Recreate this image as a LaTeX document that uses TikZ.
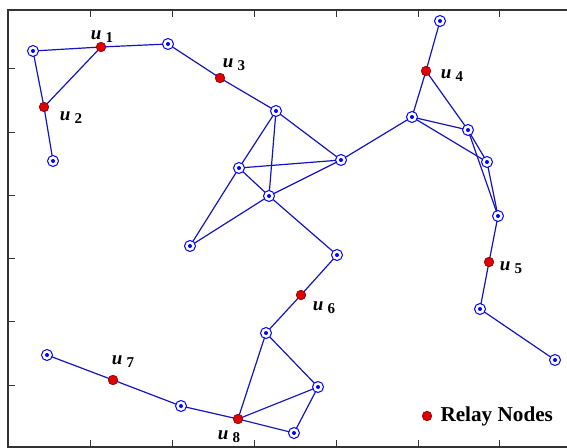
\documentclass[tikz,border=0pt]{standalone}
\usepackage{fontspec}
\setmainfont{Liberation Serif}
\usepackage{tikz}
\usetikzlibrary{positioning, backgrounds}
\usepackage{xcolor}
\definecolor{linkblue}{RGB}{20,20,190}
\definecolor{nodeblue}{RGB}{0,0,255}
\definecolor{relayred}{RGB}{225,0,0}
\newcommand{\relaytag}[1]{\textbf{\textit{u}}\kern2pt\raisebox{-0.35ex}{\fontsize{7.5}{8}\selectfont\textbf{#1}}}

\begin{document}
\begin{tikzpicture}[x=0.5pt, y=-0.5pt, node distance=0.85cm]
        \tikzstyle{sensor} = [circle, draw=nodeblue, line width=0.5pt, fill=white, minimum size=5.5pt, inner sep=0pt,
            path picture={\fill[nodeblue] (path picture bounding box.center) circle (1pt);}]
        \tikzstyle{relay} = [circle, draw=red!50!black, line width=0.3pt, fill=relayred, minimum size=4.8pt, inner sep=0pt]
        \tikzstyle{link} = [draw=linkblue, line width=0.6pt]
        \tikzstyle{tag} = [inner sep=0pt, font=\fontsize{9.5}{11}\selectfont]
        \tikzstyle{frame} = [draw=black!80, line width=0.75pt]

        \useasboundingbox (0,0) rectangle (567,448);

        % axes box and ticks
        \draw[frame] (567,10) -- (8,10) -- (8,447) -- (567,447);
        \foreach \x in {90,172,254,336,418,499} {
            \draw[frame, line width=0.5pt] (\x,10) -- (\x,17);
            \draw[frame, line width=0.5pt] (\x,447) -- (\x,440);
        }
        \foreach \y in {69,133,196,259,322,385}
            \draw[frame, line width=0.5pt] (8,\y) -- (15,\y);

        % sensor nodes
        \node[sensor] (n1) at (33,51) {};
        \node[sensor] (n2) at (168,44) {};
        \node[sensor] (n3) at (53,161) {};
        \node[sensor] (n4) at (276,111) {};
        \node[sensor] (n5) at (239,168) {};
        \node[sensor] (n6) at (341,160) {};
        \node[sensor] (n7) at (269,196) {};
        \node[sensor] (n8) at (190,246) {};
        \node[sensor] (n9) at (337,255) {};
        \node[sensor] (n10) at (440,21) {};
        \node[sensor] (n11) at (412,117) {};
        \node[sensor] (n12) at (468,130) {};
        \node[sensor] (n13) at (487,162) {};
        \node[sensor] (n14) at (498,216) {};
        \node[sensor] (n15) at (480,309) {};
        \node[sensor] (n16) at (555,360) {};
        \node[sensor] (n17) at (47,355) {};
        \node[sensor] (n18) at (181,406) {};
        \node[sensor] (n19) at (266,333) {};
        \node[sensor] (n20) at (318,387) {};
        \node[sensor] (n21) at (294,433) {};

        % relay nodes
        \node[relay] (u1) at (101,47) {};
        \node[relay] (u2) at (44,107) {};
        \node[relay] (u3) at (220,78) {};
        \node[relay] (u4) at (426,71) {};
        \node[relay] (u5) at (489,262) {};
        \node[relay] (u6) at (301,295) {};
        \node[relay] (u7) at (113,380) {};
        \node[relay] (u8) at (238,419) {};

        \node[tag] (t1) at (102,37) {\relaytag{1}};
        \node[tag] (t2) at (71,118) {\relaytag{2}};
        \node[tag] (t3) at (234,65) {\relaytag{3}};
        \node[tag] (t4) at (452,76) {\relaytag{4}};
        \node[tag] (t5) at (511,268) {\relaytag{5}};
        \node[tag] (t6) at (324,308) {\relaytag{6}};
        \node[tag] (t7) at (123,362) {\relaytag{7}};
        \node[tag] (t8) at (229,437) {\relaytag{8}};

        % legend
        \node[relay] (key) at (427,416) {};
        \node[right=4pt of key, inner sep=0pt, font=\fontsize{10.6}{12}\selectfont\bfseries] (keytext) {Relay Nodes};

        \begin{pgfonlayer}{background}
        \draw[link] (n1.center) -- (u1.center);
        \draw[link] (u1.center) -- (n2.center);
        \draw[link] (n1.center) -- (u2.center);
        \draw[link] (u1.center) -- (u2.center);
        \draw[link] (u2.center) -- (n3.center);
        \draw[link] (n2.center) -- (u3.center);
        \draw[link] (u3.center) -- (n4.center);
        \draw[link] (n4.center) -- (n5.center);
        \draw[link] (n4.center) -- (n6.center);
        \draw[link] (n4.center) -- (n7.center);
        \draw[link] (n5.center) -- (n6.center);
        \draw[link] (n5.center) -- (n7.center);
        \draw[link] (n7.center) -- (n6.center);
        \draw[link] (n5.center) -- (n8.center);
        \draw[link] (n8.center) -- (n7.center);
        \draw[link] (n7.center) -- (n9.center);
        \draw[link] (n6.center) -- (n11.center);
        \draw[link] (n9.center) -- (u6.center);
        \draw[link] (u6.center) -- (n19.center);
        \draw[link] (n19.center) -- (u8.center);
        \draw[link] (n19.center) -- (n20.center);
        \draw[link] (n20.center) -- (u8.center);
        \draw[link] (n20.center) -- (n21.center);
        \draw[link] (u8.center) -- (n21.center);
        \draw[link] (n17.center) -- (u7.center);
        \draw[link] (u7.center) -- (n18.center);
        \draw[link] (n18.center) -- (u8.center);
        \draw[link] (n10.center) -- (u4.center);
        \draw[link] (u4.center) -- (n11.center);
        \draw[link] (u4.center) -- (n12.center);
        \draw[link] (n11.center) -- (n12.center);
        \draw[link] (n11.center) -- (n13.center);
        \draw[link] (n12.center) -- (n13.center);
        \draw[link] (n12.center) -- (n14.center);
        \draw[link] (n13.center) -- (n14.center);
        \draw[link] (n14.center) -- (u5.center);
        \draw[link] (u5.center) -- (n15.center);
        \draw[link] (n15.center) -- (n16.center);
        \end{pgfonlayer}
    \end{tikzpicture}
\end{document}
